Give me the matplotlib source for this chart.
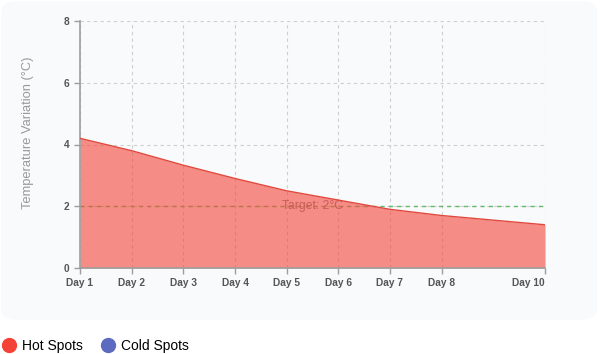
import matplotlib
matplotlib.use("Agg")
from matplotlib import pyplot as plt
from matplotlib.patches import FancyBboxPatch
from matplotlib.lines import Line2D

plt.rcParams["font.family"] = ["Liberation Sans", "DejaVu Sans"]

days = [1, 2, 3, 4, 5, 6, 7, 8, 10]
dayLabels = ["Day 1", "Day 2", "Day 3", "Day 4", "Day 5", "Day 6", "Day 7", "Day 8", "Day 10"]
hotSpots = [4.2, 3.8, 3.33, 2.9, 2.5, 2.2, 1.9, 1.7, 1.4]
target = 2
yTicks = [0, 2, 4, 6, 8]

fig = plt.figure(figsize=(6, 3.54), dpi=100)
fig.patch.set_facecolor("white")

# card behind the chart
card = FancyBboxPatch((0.002, 1 - 320 / 354), 0.993, 320 / 354 - 0.003,
                      boxstyle="round,pad=0,rounding_size=0.03",
                      transform=fig.transFigure, facecolor="#f8fafc",
                      edgecolor="none", zorder=-5)
fig.patches.append(card)

ax = fig.add_axes([80 / 600, 1 - 268 / 354, 465 / 600, 247 / 354])
ax.set_facecolor("none")

ax.set_xlim(1, 10)
ax.set_ylim(0, 8)
ax.set_xticks(days)
ax.set_xticklabels(dayLabels)
ax.set_yticks(yTicks)

ax.grid(True, color="#cfcfcf", linestyle=(0, (3, 3)), linewidth=0.8)
ax.set_axisbelow(True)

# target line sits under the fill
ax.axhline(target, color="#66bb6a", linestyle=(0, (3, 3)), linewidth=1, zorder=1)
ax.text(5.5, target, "Target: 2°C", color="#888888", fontsize=8.7,
        ha="center", va="center", zorder=1)

ax.fill_between(days, hotSpots, 0, color="#f44336", alpha=0.6, linewidth=0, zorder=2)
ax.plot(days, hotSpots, color="#e0493e", linewidth=1, zorder=3)

for side in ["top", "right"]:
    ax.spines[side].set_visible(False)
for side in ["left", "bottom"]:
    ax.spines[side].set_color("#9e9e9e")
    ax.spines[side].set_linewidth(1.2)

ax.tick_params(axis="both", colors="#9e9e9e", length=4, width=1)
for lbl in ax.get_xticklabels() + ax.get_yticklabels():
    lbl.set_color("#555555")
    lbl.set_fontsize(7.3)
    lbl.set_fontweight("bold")
ax.get_xticklabels()[-1].set_horizontalalignment("right")

fig.text(28 / 600, 1 - 133 / 354, "Temperature Variation (°C)", color="#999999",
         fontsize=9.3, rotation=90, ha="center", va="center")

handles = [Line2D([], [], marker="o", linestyle="none", markersize=10,
                  markerfacecolor="#f44336", markeredgecolor="#f44336"),
           Line2D([], [], marker="o", linestyle="none", markersize=10,
                  markerfacecolor="#5c6bc0", markeredgecolor="#5c6bc0")]
fig.legend(handles, ["Hot Spots", "Cold Spots"], loc="center left",
           bbox_to_anchor=(-0.02, 1 - 346 / 354), ncol=2, frameon=False,
           fontsize=10, handletextpad=0.35, columnspacing=1.2, handlelength=1.2)

fig.savefig("out.png", dpi=100, facecolor="white")
